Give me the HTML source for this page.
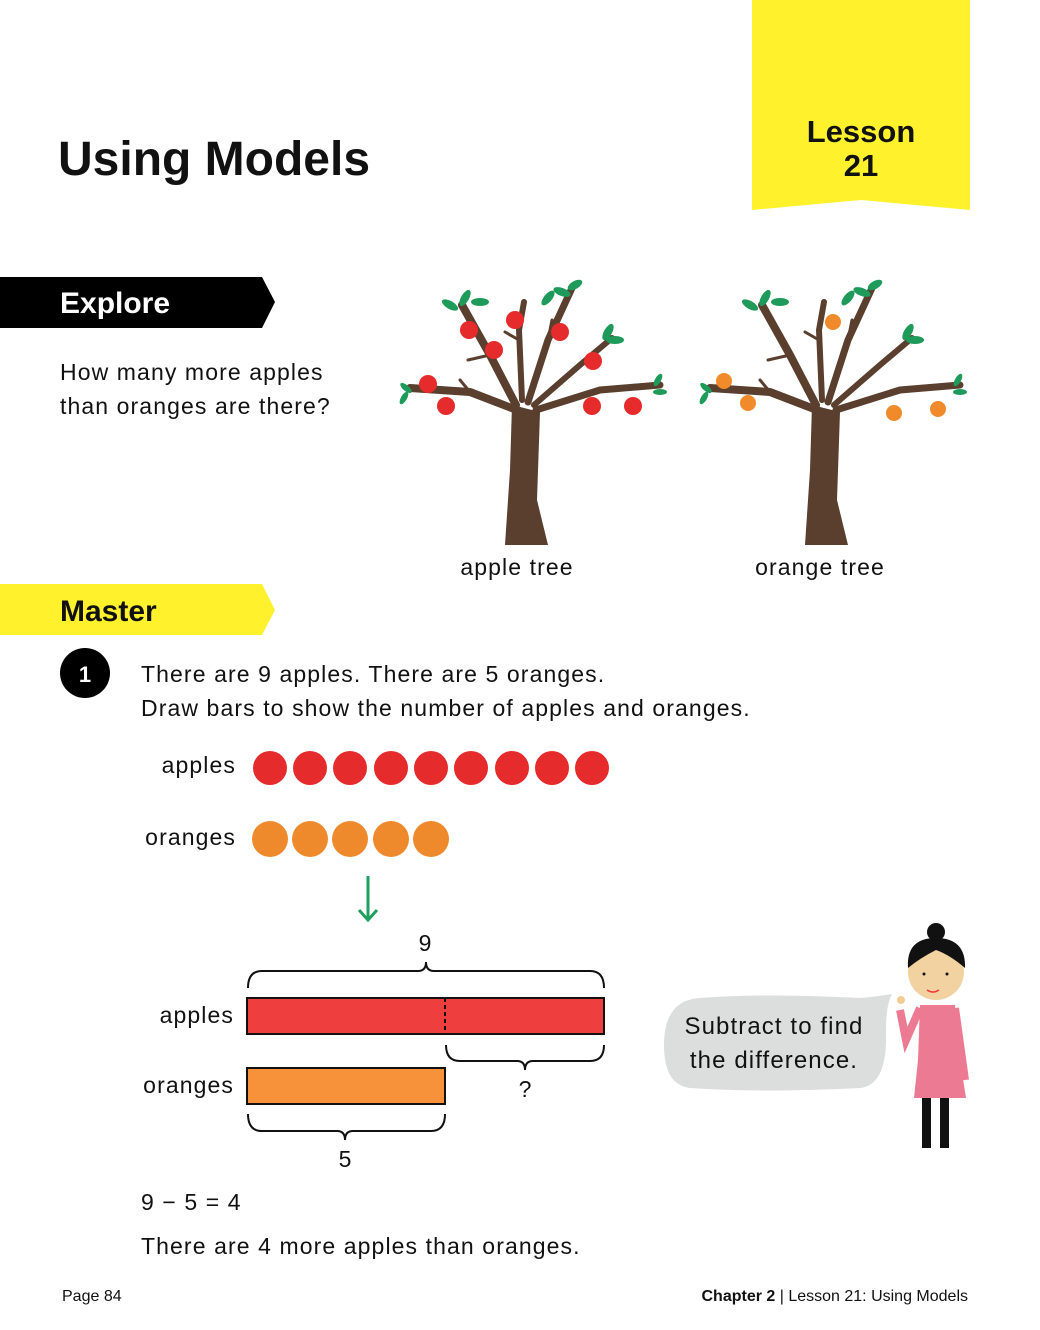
<!DOCTYPE html>
<html><head><meta charset="utf-8"><style>
body{margin:0;background:#fff}
svg{display:block}
text{font-family:"Liberation Sans",sans-serif}
.b{letter-spacing:1.1px}
</style></head><body>
<svg width="1040" height="1330" viewBox="0 0 1040 1330" xmlns="http://www.w3.org/2000/svg">
<defs>
<g id="tree">
  <polygon points="505,545 548,545 537,500 540,412 512,405 510,470" fill="#5a3f2e"/>
  <g stroke="#5a3f2e" stroke-linecap="round" stroke-linejoin="round" fill="none">
    <polyline points="522,412 470,392 410,388" stroke-width="8"/>
    <polyline points="516,405 490,355 462,305" stroke-width="8"/>
    <polyline points="522,400 519,330 524,302" stroke-width="6"/>
    <polyline points="528,402 548,340 572,288" stroke-width="7"/>
    <polyline points="534,405 580,365 612,338" stroke-width="6"/>
    <polyline points="536,410 600,390 660,385" stroke-width="7"/>
    <line x1="490" y1="355" x2="468" y2="360" stroke-width="3"/>
    <line x1="519" y1="340" x2="505" y2="332" stroke-width="3"/>
    <line x1="548" y1="340" x2="552" y2="320" stroke-width="3"/>
    <line x1="470" y1="392" x2="460" y2="380" stroke-width="3"/>
  </g>
</g>
<g id="leaves">
  <ellipse cx="450" cy="305" rx="9" ry="4" fill="#1e9a5a" transform="rotate(30 450 305)"/>
  <ellipse cx="465" cy="298" rx="9" ry="4" fill="#1e9a5a" transform="rotate(-60 465 298)"/>
  <ellipse cx="480" cy="302" rx="9" ry="4" fill="#1e9a5a"/>
  <ellipse cx="548" cy="298" rx="9" ry="4" fill="#1e9a5a" transform="rotate(-50 548 298)"/>
  <ellipse cx="562" cy="292" rx="9" ry="4" fill="#1e9a5a" transform="rotate(20 562 292)"/>
  <ellipse cx="575" cy="285" rx="8" ry="4" fill="#1e9a5a" transform="rotate(-30 575 285)"/>
  <ellipse cx="608" cy="332" rx="9" ry="4" fill="#1e9a5a" transform="rotate(-60 608 332)"/>
  <ellipse cx="615" cy="340" rx="9" ry="4" fill="#1e9a5a"/>
  <ellipse cx="658" cy="380" rx="7" ry="3" fill="#1e9a5a" transform="rotate(-60 658 380)"/>
  <ellipse cx="660" cy="392" rx="7" ry="3" fill="#1e9a5a"/>
  <ellipse cx="406" cy="388" rx="7" ry="3" fill="#1e9a5a" transform="rotate(40 406 388)"/>
  <ellipse cx="404" cy="398" rx="7" ry="3" fill="#1e9a5a" transform="rotate(-60 404 398)"/>
</g>
</defs>

<rect x="752" y="0" width="218" height="210" fill="#fff22d"/>
<polygon points="752,210 861,200 970,210 970,214 752,214" fill="#fff"/>
<text x="861" y="142" font-size="31" font-weight="bold" text-anchor="middle" fill="#111">Lesson</text>
<text x="861" y="176" font-size="31" font-weight="bold" text-anchor="middle" fill="#111">21</text>
<text x="58" y="175" font-size="48" font-weight="bold" fill="#111">Using Models</text>

<polygon points="0,277 262,277 275,302 262,328 0,328" fill="#000"/>
<text x="60" y="313" font-size="30" font-weight="bold" fill="#fff">Explore</text>
<text class="b" x="60" y="380" font-size="23" fill="#111">How many more apples</text>
<text class="b" x="60" y="414" font-size="23" fill="#111">than oranges are there?</text>

<use href="#tree"/><use href="#leaves"/>
<g transform="translate(300,0)"><use href="#tree"/><use href="#leaves"/></g>
<g fill="#e52b2b">
<circle cx="469" cy="330" r="9"/><circle cx="515" cy="320" r="9"/><circle cx="494" cy="350" r="9"/><circle cx="560" cy="332" r="9"/><circle cx="593" cy="361" r="9"/><circle cx="428" cy="384" r="9"/><circle cx="446" cy="406" r="9"/><circle cx="592" cy="406" r="9"/><circle cx="633" cy="406" r="9"/>
</g>
<g fill="#f08a2a">
<circle cx="724" cy="381" r="8"/><circle cx="748" cy="403" r="8"/><circle cx="833" cy="322" r="8"/><circle cx="894" cy="413" r="8"/><circle cx="938" cy="409" r="8"/>
</g>
<text class="b" x="517" y="575" font-size="23" text-anchor="middle" fill="#111">apple tree</text>
<text class="b" x="820" y="575" font-size="23" text-anchor="middle" fill="#111">orange tree</text>

<polygon points="0,584 262,584 275,610 262,635 0,635" fill="#fff22d"/>
<text x="60" y="621" font-size="30" font-weight="bold" fill="#111">Master</text>

<circle cx="85" cy="673" r="25" fill="#000"/>
<text x="85" y="682" font-size="22" font-weight="bold" text-anchor="middle" fill="#fff">1</text>
<text class="b" x="141" y="682" font-size="23" fill="#111">There are 9 apples. There are 5 oranges.</text>
<text class="b" x="141" y="716" font-size="23" fill="#111">Draw bars to show the number of apples and oranges.</text>

<text class="b" x="236" y="773" font-size="23" text-anchor="end" fill="#111">apples</text>
<text class="b" x="236" y="845" font-size="23" text-anchor="end" fill="#111">oranges</text>
<g fill="#e52b2b">
<circle cx="270" cy="768" r="17"/><circle cx="310" cy="768" r="17"/><circle cx="350" cy="768" r="17"/><circle cx="391" cy="768" r="17"/><circle cx="431" cy="768" r="17"/><circle cx="471" cy="768" r="17"/><circle cx="512" cy="768" r="17"/><circle cx="552" cy="768" r="17"/><circle cx="592" cy="768" r="17"/>
</g>
<g fill="#ef8a2c">
<circle cx="270" cy="839" r="18"/><circle cx="310" cy="839" r="18"/><circle cx="350" cy="839" r="18"/><circle cx="391" cy="839" r="18"/><circle cx="431" cy="839" r="18"/>
</g>
<g stroke="#1fa060" stroke-width="3" fill="none">
<line x1="368" y1="876" x2="368" y2="920"/><polyline points="359,910 368,920 377,910"/>
</g>

<text x="425" y="951" font-size="23" text-anchor="middle" fill="#111">9</text>
<g stroke="#111" stroke-width="2" fill="none">
<path d="M248,988 Q248,971 262,971 L418,971 Q426,971 426,962 Q426,971 434,971 L590,971 Q604,971 604,988"/>
<path d="M446,1045 Q446,1061 460,1061 L517,1061 Q525,1061 525,1070 Q525,1061 533,1061 L590,1061 Q604,1061 604,1045"/>
<path d="M248,1114 Q248,1131 262,1131 L337,1131 Q345,1131 345,1140 Q345,1131 353,1131 L431,1131 Q445,1131 445,1114"/>
</g>
<rect x="247" y="998" width="357" height="36" fill="#ef3e3e" stroke="#111" stroke-width="2"/>
<line x1="445" y1="998" x2="445" y2="1034" stroke="#111" stroke-width="2" stroke-dasharray="4,3"/>
<rect x="247" y="1068" width="198" height="36" fill="#f7913a" stroke="#111" stroke-width="2"/>
<text class="b" x="234" y="1023" font-size="23" text-anchor="end" fill="#111">apples</text>
<text class="b" x="234" y="1093" font-size="23" text-anchor="end" fill="#111">oranges</text>
<text x="525" y="1097" font-size="23" text-anchor="middle" fill="#111">?</text>
<text x="345" y="1167" font-size="23" text-anchor="middle" fill="#111">5</text>
<text class="b" x="141" y="1210" font-size="23" fill="#111">9 − 5 = 4</text>
<text class="b" x="141" y="1254" font-size="23" fill="#111">There are 4 more apples than oranges.</text>

<path d="M700,998 Q760,993 860,998 Q880,996 892,994 Q886,1005 886,1030 Q888,1085 860,1088 Q760,1093 690,1088 Q664,1085 664,1045 Q664,1000 700,998 Z" fill="#dcdddd"/>
<text class="b" x="774" y="1034" font-size="24" text-anchor="middle" fill="#111">Subtract to find</text>
<text class="b" x="774" y="1068" font-size="24" text-anchor="middle" fill="#111">the difference.</text>

<rect x="922" y="1090" width="9" height="58" fill="#111"/><rect x="940" y="1090" width="9" height="58" fill="#111"/>
<path d="M920,1005 L955,1005 L960,1060 L966,1098 L914,1098 L918,1060 Z" fill="#ec7a92"/>
<path d="M920,1008 L906,1040 L900,1010" stroke="#ec7a92" stroke-width="8" fill="none"/>
<path d="M955,1008 L965,1080" stroke="#ec7a92" stroke-width="8" fill="none"/>
<circle cx="901" cy="1000" r="4" fill="#f2cc97"/>
<circle cx="936" cy="972" r="28" fill="#f2d2a0"/>
<path d="M908,968 Q906,938 936,938 Q966,938 965,968 Q950,955 936,950 Q920,958 908,968 Z" fill="#111"/>
<circle cx="936" cy="932" r="9" fill="#111"/>
<circle cx="924" cy="974" r="1.5" fill="#111"/><circle cx="947" cy="974" r="1.5" fill="#111"/>
<path d="M927,990 Q933,994 939,990" stroke="#e33" stroke-width="1.5" fill="none"/>

<text x="62" y="1301" font-size="16" fill="#111">Page 84</text>
<text x="968" y="1301" font-size="16" text-anchor="end" fill="#111"><tspan font-weight="bold">Chapter 2</tspan> | Lesson 21: Using Models</text>
</svg>
</body></html>
